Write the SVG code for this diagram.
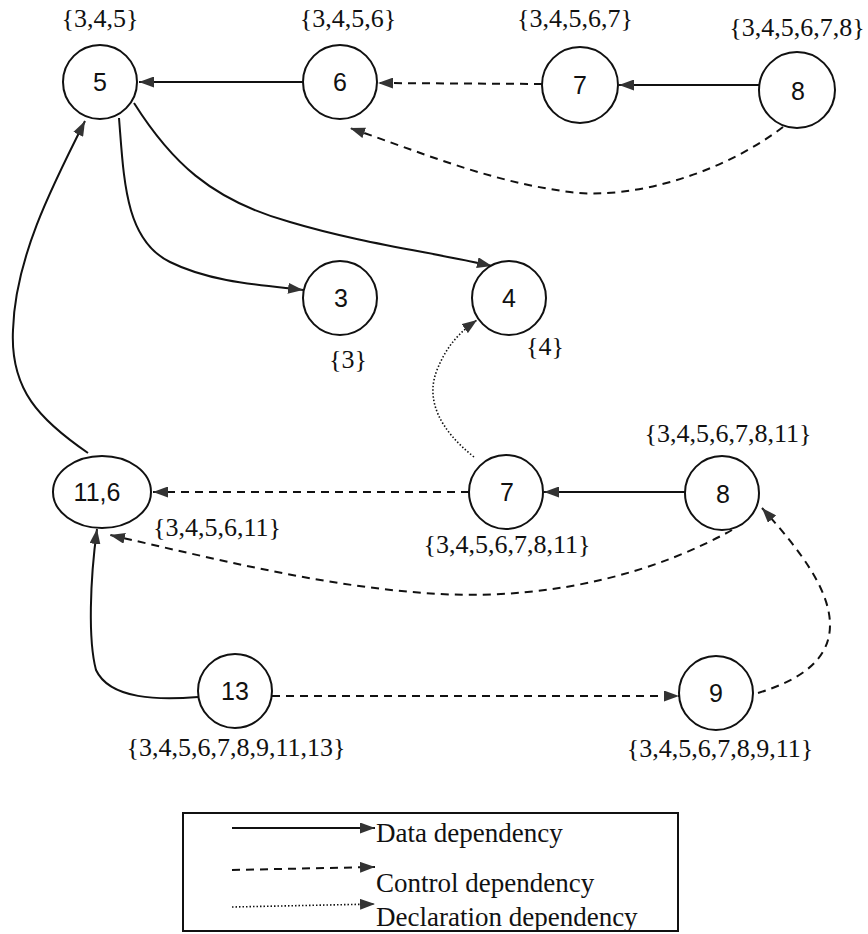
<svg xmlns="http://www.w3.org/2000/svg" width="868" height="934" viewBox="0 0 868 934">
<style>
.node{fill:#fff;stroke:#111;stroke-width:2}
.nl{font-family:"Liberation Sans",Arial,sans-serif;font-size:25px;fill:#111;text-anchor:middle}
.set{font-family:'Liberation Serif','Times New Roman',serif;font-size:26px;fill:#111}
.leg{font-family:'Liberation Serif','Times New Roman',serif;font-size:27px;fill:#111}
.e{fill:none;stroke:#111;stroke-width:2}
.data{marker-end:url(#ah)}
.ctrl{stroke-dasharray:8 6;marker-end:url(#ah)}
.decl{stroke-dasharray:1.5 2;stroke-width:1.6;marker-end:url(#ah)}
</style>
<defs>
<marker id="ah" viewBox="0 0 15 11" refX="15" refY="5.5" markerWidth="15" markerHeight="11" orient="auto" markerUnits="userSpaceOnUse">
<path d="M0,0 L15,5.5 L0,11 z" fill="#333"/>
</marker>
</defs>
<rect width="868" height="934" fill="#fff"/>
<g id="connectors">
<path class="e data" d="M303 82 L139 82"/>
<path class="e ctrl" d="M542 84 L378 83"/>
<path class="e data" d="M759 85 L619 85"/>
<path class="e ctrl" d="M783 127 C720 175 630 200 570 192 C490 182 420 152 350 128"/>
<path class="e data" d="M119 118 C124 180 125 240 170 262 C210 282 260 285 303 290"/>
<path class="e data" d="M134 103 C170 160 210 200 290 222 C360 243 430 252 492 266"/>
<path class="e data" d="M88 453 C40 420 10 390 13 330 C15 260 50 190 85 121"/>
<path class="e decl" d="M474 457 C440 430 425 400 437 370 C447 345 460 332 477 320"/>
<path class="e ctrl" d="M469 492 L153 492"/>
<path class="e data" d="M685 492 L544 492"/>
<path class="e ctrl" d="M732 530 C660 570 560 600 440 594 C330 588 220 560 110 535"/>
<path class="e data" d="M198 697 C160 700 110 700 96 670 C88 640 90 580 97 529"/>
<path class="e ctrl" d="M272 696 L679 696"/>
<path class="e ctrl" d="M758 693 C800 680 830 660 830 625 C830 590 800 550 762 508"/>
</g>
<g id="n5"><circle class="node" cx="100" cy="82" r="37"/><text class="nl" x="100" y="91">5</text><text class="set" x="100" y="27" text-anchor="middle">{3,4,5}</text></g>
<g id="n6"><circle class="node" cx="340" cy="82" r="37"/><text class="nl" x="340" y="91">6</text><text class="set" x="348" y="27" text-anchor="middle">{3,4,5,6}</text></g>
<g id="n7a"><circle class="node" cx="580" cy="85" r="38"/><text class="nl" x="580" y="94">7</text><text class="set" x="575" y="27" text-anchor="middle">{3,4,5,6,7}</text></g>
<g id="n8a"><circle class="node" cx="797" cy="90" r="38"/><text class="nl" x="798" y="100">8</text><text class="set" x="797" y="36" text-anchor="middle">{3,4,5,6,7,8}</text></g>
<g id="n3"><circle class="node" cx="340" cy="298" r="37"/><text class="nl" x="341" y="307">3</text><text class="set" x="348" y="368" text-anchor="middle">{3}</text></g>
<g id="n4"><circle class="node" cx="509" cy="298" r="37"/><text class="nl" x="509" y="307">4</text><text class="set" x="545" y="355" text-anchor="middle">{4}</text></g>
<g id="n116"><ellipse class="node" cx="102" cy="492" rx="49" ry="36"/><text class="nl" x="97" y="501">11,6</text><text class="set" x="153" y="536">{3,4,5,6,11}</text></g>
<g id="n7b"><circle class="node" cx="506" cy="492" r="37"/><text class="nl" x="507" y="501">7</text><text class="set" x="507" y="553" text-anchor="middle">{3,4,5,6,7,8,11}</text></g>
<g id="n8b"><circle class="node" cx="722" cy="493" r="37"/><text class="nl" x="723" y="503">8</text><text class="set" x="728" y="442" text-anchor="middle">{3,4,5,6,7,8,11}</text></g>
<g id="n13"><circle class="node" cx="235" cy="691" r="37"/><text class="nl" x="235" y="700">13</text><text class="set" x="236" y="756" text-anchor="middle">{3,4,5,6,7,8,9,11,13}</text></g>
<g id="n9"><circle class="node" cx="716" cy="693" r="37"/><text class="nl" x="716" y="702">9</text><text class="set" x="720" y="757" text-anchor="middle">{3,4,5,6,7,8,9,11}</text></g>
<g id="legend">
<rect x="183" y="813" width="495" height="118" fill="none" stroke="#111" stroke-width="2"/>
<path class="e data" d="M232 828 L375 828"/>
<path class="e ctrl" d="M232 870 L375 867"/>
<path class="e decl" d="M232 907 L375 904"/>
<text class="leg" x="376" y="842">Data dependency</text>
<text class="leg" x="376" y="892">Control dependency</text>
<text class="leg" x="376" y="926">Declaration dependency</text>
</g>
</svg>
